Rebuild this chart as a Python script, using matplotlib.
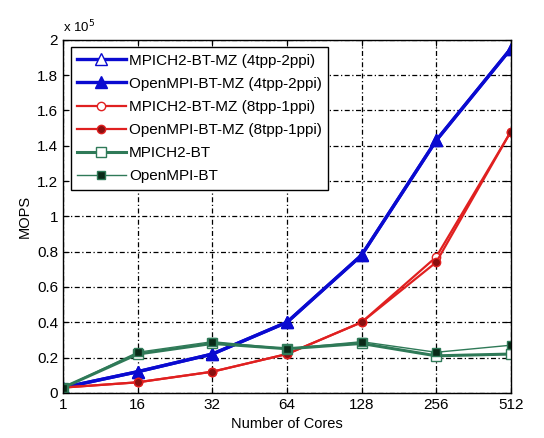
import matplotlib
matplotlib.use("Agg")
import matplotlib.pyplot as plt
from matplotlib.ticker import FuncFormatter

plt.rcParams['font.family'] = ['Liberation Sans', 'DejaVu Sans']

cores = ['1', '16', '32', '64', '128', '256', '512']

# MOPS values (x 10^5)
mpich_mz_4tpp = [0.03, 0.12, 0.22, 0.40, 0.78, 1.43, 1.95]
openmpi_mz_4tpp = [0.03, 0.12, 0.22, 0.40, 0.78, 1.43, 1.95]
mpich_mz_8tpp = [0.03, 0.06, 0.12, 0.22, 0.40, 0.77, 1.48]
openmpi_mz_8tpp = [0.03, 0.06, 0.12, 0.22, 0.40, 0.74, 1.48]
mpich_bt = [0.03, 0.22, 0.28, 0.25, 0.28, 0.21, 0.22]
openmpi_bt = [0.03, 0.23, 0.29, 0.25, 0.29, 0.23, 0.27]

scale = 1e5
x = list(range(len(cores)))

fig = plt.figure(figsize=(5.44, 4.38), dpi=100)
ax = fig.add_axes([0.116, 0.103, 0.823, 0.806])

blue = '#0a0ad0'
red = '#e02020'
green = '#2f7a58'

ax.plot(x, [v * scale for v in mpich_mz_4tpp], color=blue, lw=2.4, marker='^',
        ms=8, mfc='white', mec=blue, label='MPICH2-BT-MZ (4tpp-2ppi)')
ax.plot(x, [v * scale for v in openmpi_mz_4tpp], color=blue, lw=2.4, marker='^',
        ms=8, mfc=blue, mec=blue, label='OpenMPI-BT-MZ (4tpp-2ppi)')
ax.plot(x, [v * scale for v in mpich_mz_8tpp], color=red, lw=1.6, marker='o',
        ms=6, mfc='white', mec=red, label='MPICH2-BT-MZ (8tpp-1ppi)')
ax.plot(x, [v * scale for v in openmpi_mz_8tpp], color=red, lw=1.6, marker='o',
        ms=6, mfc='#8a1010', mec=red, label='OpenMPI-BT-MZ (8tpp-1ppi)')
ax.plot(x, [v * scale for v in mpich_bt], color=green, lw=2.2, marker='s',
        ms=7, mfc='white', mec=green, label='MPICH2-BT')
ax.plot(x, [v * scale for v in openmpi_bt], color=green, lw=1.0, marker='s',
        ms=6, mfc='#0a2a18', mec=green, label='OpenMPI-BT')

ax.set_xlim(0, len(cores) - 1)
ax.set_ylim(0, 2 * scale)
ax.set_xticks(x)
ax.set_xticklabels(cores)
ax.set_yticks([i * 0.2 * scale for i in range(11)])
ax.yaxis.set_major_formatter(FuncFormatter(lambda v, p: '%g' % round(v / scale, 1)))
ax.tick_params(direction='in', top=True, right=True, labelsize=11, length=4)
ax.grid(True, color='black', linestyle=(0, (4, 2, 1, 2)), lw=0.9)
for s in ax.spines.values():
    s.set_linewidth(1.0)

ax.text(0.0, 1.012, 'x 10$^5$', transform=ax.transAxes, fontsize=9.5,
        ha='left', va='bottom')
ax.set_xlabel('Number of Cores', fontsize=10.5)
ax.set_ylabel('MOPS', fontsize=10.5)

leg = ax.legend(loc='upper left', fontsize=11, fancybox=False, framealpha=1,
                edgecolor='black', handlelength=3.2, borderaxespad=0.5,
                labelspacing=0.6, handletextpad=0.2)
leg.get_frame().set_linewidth(1.0)

fig.savefig('out.png', dpi=100)
